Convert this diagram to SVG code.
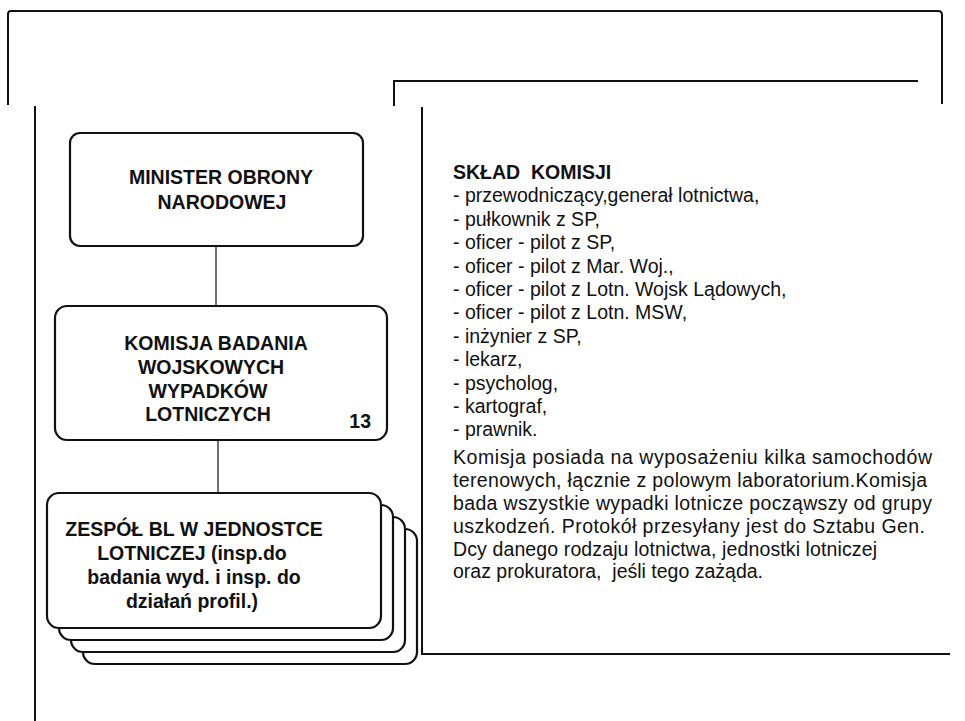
<svg xmlns="http://www.w3.org/2000/svg" width="965" height="721" viewBox="0 0 965 721">
<style>
.frame{fill:none;stroke:#111;stroke-width:2}
.box{fill:#fff;stroke:#111;stroke-width:2.2}
.conn{fill:none;stroke:#222;stroke-width:1.3}
.bt{font-family:"Liberation Sans",Arial,sans-serif;font-weight:bold;font-size:19.5px;fill:#111;text-anchor:middle}
.rt{font-family:"Liberation Sans",Arial,sans-serif;font-size:19.5px;fill:#111;white-space:pre}
.rb{font-weight:bold}
</style>
<rect width="965" height="721" fill="#fff"/>
<g id="frame">
<path class="frame" d="M8,105 V14 Q8,11 11,11 H938 Q942,11 942,15 V104"/>
<path class="frame" d="M394,106 V81 H918"/>
<path class="frame" d="M35,106 V721"/>
<path class="frame" d="M422,107 V654 H950"/>
</g>
<g id="connectors">
<path class="conn" d="M216,246 V306"/>
<path class="conn" d="M218,440 V493"/>
</g>
<g id="minister">
<rect class="box" x="70" y="133" width="293" height="113" rx="10"/>
<text class="bt" x="221" y="184">MINISTER OBRONY</text>
<text class="bt" x="222" y="209">NARODOWEJ</text>
</g>
<g id="komisja">
<rect class="box" x="55" y="306" width="332" height="134" rx="12"/>
<text class="bt" x="216" y="350">KOMISJA BADANIA</text>
<text class="bt" x="211" y="374">WOJSKOWYCH</text>
<text class="bt" x="208" y="398">WYPADKÓW</text>
<text class="bt" x="208" y="421">LOTNICZYCH</text>
<text class="bt" x="371" y="428" style="text-anchor:end">13</text>
</g>
<g id="zespol">
<rect class="box" x="83" y="529" width="334" height="135" rx="12"/>
<rect class="box" x="71" y="517" width="334" height="135" rx="12"/>
<rect class="box" x="59" y="505" width="334" height="135" rx="12"/>
<rect class="box" x="47" y="493" width="334" height="135" rx="12"/>
<text class="bt" x="194" y="536">ZESPÓŁ BL W JEDNOSTCE</text>
<text class="bt" x="192" y="560">LOTNICZEJ (insp.do</text>
<text class="bt" x="194" y="584">badania wyd. i insp. do</text>
<text class="bt" x="192" y="608">działań profil.)</text>
</g>
<g id="sklad">
<text class="rt rb" x="453" y="179" xml:space="preserve">SKŁAD  KOMISJI</text>
<text class="rt" x="453" y="202.4">- przewodniczący,generał lotnictwa,</text>
<text class="rt" x="453" y="225.8">- pułkownik z SP,</text>
<text class="rt" x="453" y="249.2">- oficer - pilot z SP,</text>
<text class="rt" x="453" y="272.6">- oficer - pilot z Mar. Woj.,</text>
<text class="rt" x="453" y="296">- oficer - pilot z Lotn. Wojsk Lądowych,</text>
<text class="rt" x="453" y="319.4">- oficer - pilot z Lotn. MSW,</text>
<text class="rt" x="453" y="342.8">- inżynier z SP,</text>
<text class="rt" x="453" y="366.2">- lekarz,</text>
<text class="rt" x="453" y="389.6">- psycholog,</text>
<text class="rt" x="453" y="413">- kartograf,</text>
<text class="rt" x="453" y="436.4">- prawnik.</text>
<text class="rt" x="453" y="464" textLength="479" lengthAdjust="spacing">Komisja posiada na wyposażeniu kilka samochodów</text>
<text class="rt" x="453" y="487" textLength="474" lengthAdjust="spacing">terenowych, łącznie z polowym laboratorium.Komisja</text>
<text class="rt" x="453" y="510" textLength="479" lengthAdjust="spacing">bada wszystkie wypadki lotnicze począwszy od grupy</text>
<text class="rt" x="453" y="533" textLength="472" lengthAdjust="spacing">uszkodzeń. Protokół przesyłany jest do Sztabu Gen.</text>
<text class="rt" x="453" y="555.5" textLength="424" lengthAdjust="spacing">Dcy danego rodzaju lotnictwa, jednostki lotniczej</text>
<text class="rt" x="453" y="578" xml:space="preserve">oraz prokuratora,  jeśli tego zażąda.</text>
</g>
</svg>
